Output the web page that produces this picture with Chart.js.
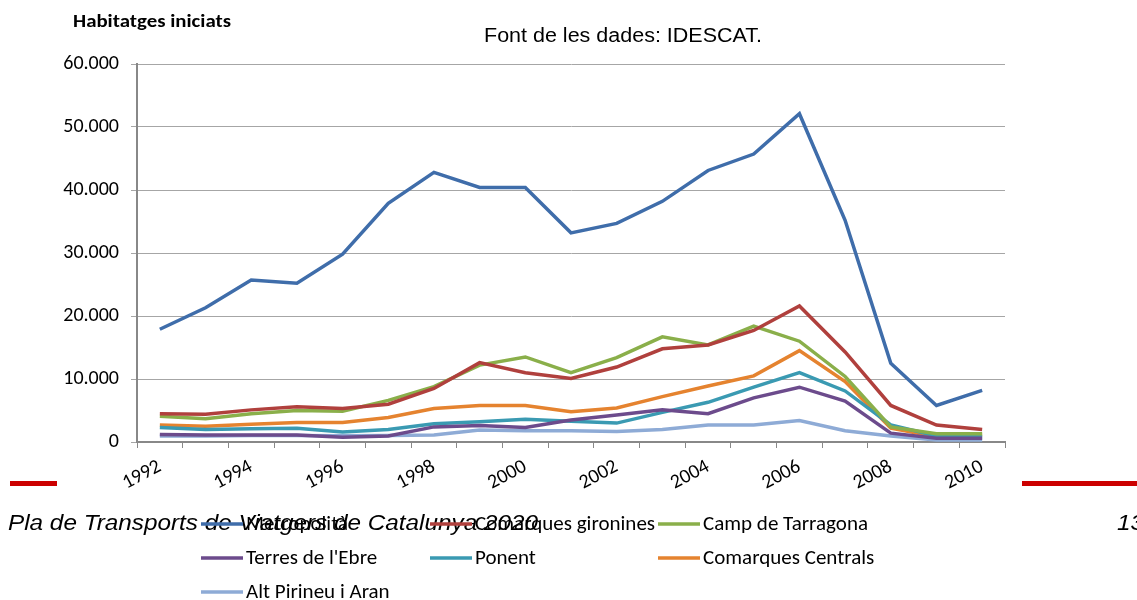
<!DOCTYPE html>
<html><head><meta charset="utf-8">
<script src="https://cdn.jsdelivr.net/npm/chart.js@4.4.0/dist/chart.umd.min.js"></script>
<style>html,body{margin:0;padding:0;background:#fff;}canvas{display:block;}</style>
</head><body>
<canvas id="c" width="1137" height="600"></canvas>
<script>
const years = ['1992','1993','1994','1995','1996','1997','1998','1999','2000','2001','2002','2003','2004','2005','2006','2007','2008','2009','2010'];
const seriesNames = ['Metropolità','Comarques gironines','Camp de Tarragona',"Terres de l'Ebre",'Ponent','Comarques Centrals','Alt Pirineu i Aran'];
const metropolita = [17900,21300,25700,25200,29800,37900,42800,40400,40400,33200,34700,38200,43100,45700,52100,35200,12500,5800,8200];
const gironines   = [4500,4400,5100,5600,5300,6000,8500,12600,11000,10100,11900,14800,15400,17700,21600,14300,5800,2700,2000];
const tarragona   = [4100,3700,4500,5000,4900,6600,8800,12200,13500,11000,13400,16700,15400,18400,16000,10400,2400,1300,1300];
const ebre        = [1200,1100,1100,1100,750,950,2400,2600,2300,3500,4300,5100,4500,7000,8700,6500,1400,600,600];
const ponent      = [2300,2000,2100,2200,1600,2000,2900,3200,3600,3300,3000,4700,6300,8700,11000,8100,2700,950,850];
const centrals    = [2700,2500,2800,3100,3100,3900,5300,5800,5800,4800,5400,7200,8900,10500,14500,9600,2200,850,1100];
const pirineu     = [950,950,1050,1050,1000,1050,1100,1900,1800,1800,1650,2000,2700,2700,3400,1800,950,300,300];
const yTicks = [0,10000,20000,30000,40000,50000,60000];
const colors = ['#3F6DAA','#B0403D','#8AAF4A','#6C4B8C','#3A9AB2','#E5832F','#8EABD6'];
const seriesValues = [metropolita,gironines,tarragona,ebre,ponent,centrals,pirineu];

const labelFont = "Carlito, Calibri, Lato, sans-serif";

// draw text horizontally stretched to a target width
function fitText(ctx, text, x, y, width, align){
  const w = ctx.measureText(text).width;
  const sx = width / w;
  ctx.save();
  let left = x;
  if (align === 'center') left = x - width/2;
  ctx.translate(left, y);
  ctx.scale(sx, 1);
  ctx.textAlign = 'left';
  ctx.fillText(text, 0, 0);
  ctx.restore();
}

const overlay = {
  id:'overlay',
  afterDraw(chart){
    const ctx = chart.ctx;
    ctx.save();
    ctx.fillStyle='#000';
    ctx.textBaseline='alphabetic';
    ctx.font = "bold 17px " + labelFont;
    fitText(ctx, 'Habitatges iniciats', 73, 27, 158, 'left');
    ctx.font = "19.5px 'Liberation Sans', Arial, sans-serif";
    fitText(ctx, 'Font de les dades: IDESCAT.', 623, 42, 278, 'center');
    // red rules
    ctx.fillStyle='#CC0000';
    ctx.fillRect(10, 481, 47, 5);
    ctx.fillRect(1022, 481, 115, 5);
    // footer
    ctx.fillStyle='#000';
    ctx.font = "italic 21.5px 'Liberation Sans', Arial, sans-serif";
    const fw = ctx.measureText('Pla de Transports de Viatgers de Catalunya 2020').width;
    const fsx = 530 / fw;
    fitText(ctx, 'Pla de Transports de Viatgers de Catalunya 2020', 8, 530, 530, 'left');
    fitText(ctx, '13', 1117, 530, ctx.measureText('13').width * fsx, 'left');
    // legend grid
    const colX=[201,430,658], rowY=[524,558,592];
    ctx.font = "19.5px " + labelFont;
    const lsx = 165 / ctx.measureText('Camp de Tarragona').width;
    chart.data.datasets.forEach((ds,i)=>{
      const x = colX[i%3], y = rowY[Math.floor(i/3)];
      ctx.strokeStyle = ds.borderColor; ctx.lineWidth = 3.5; ctx.lineCap='butt';
      ctx.beginPath(); ctx.moveTo(x,y); ctx.lineTo(x+42,y); ctx.stroke();
      ctx.fillStyle='#000';
      fitText(ctx, ds.label, x+45, y+6, ctx.measureText(ds.label).width * lsx, 'left');
    });
    ctx.restore();
  }
};

new Chart(document.getElementById('c'), {
  type:'line',
  data:{
    labels: years,
    datasets: seriesNames.map((n,i)=>({
      label:n, data:seriesValues[i], borderColor:colors[i], backgroundColor:colors[i],
      borderWidth:3.5, pointRadius:0, tension:0, fill:false
    }))
  },
  options:{
    responsive:false, animation:false, devicePixelRatio:1,
    layout:{padding:{left:0, top:64, right:132, bottom:98}},
    plugins:{legend:{display:false}, title:{display:false}, tooltip:{enabled:false}},
    scales:{
      x:{
        offset:true,
        grid:{display:true, drawOnChartArea:false, drawTicks:true, tickLength:6, offset:true, color:'#888'},
        border:{display:true, color:'#888', width:2},
        ticks:{autoSkip:false, maxRotation:28, minRotation:28, padding:7, color:'#000',
          font:{family:labelFont, size:20},
          callback:function(v,i){ return i%2===0 ? years[i] : ''; }},
        afterFit(s){ s.height = 60; }
      },
      y:{
        min:0, max:60000,
        afterBuildTicks(s){ s.ticks = yTicks.map(v=>({value:v})); },
        grid:{color:'#a6a6a6', lineWidth:1, drawTicks:true, tickLength:6},
        border:{display:true, color:'#888', width:2},
        ticks:{padding:12, color:'#000', font:{family:labelFont, size:20},
          callback:v=> v.toString().replace(/\B(?=(\d{3})+(?!\d))/g,'.')},
        afterFit(s){ s.width = 137; }
      }
    }
  },
  plugins:[overlay]
});
</script>
</body></html>
